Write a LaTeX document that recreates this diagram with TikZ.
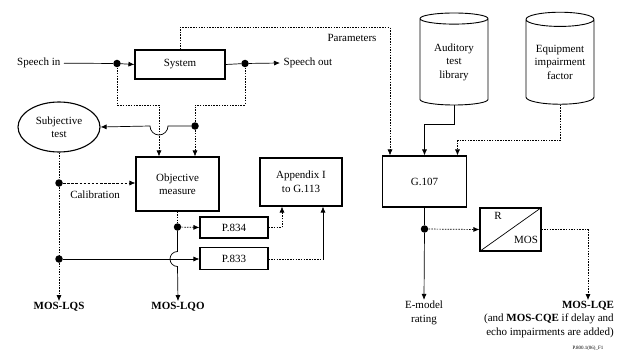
\documentclass[tikz,border=0pt]{standalone}
\usepackage{fontspec}
\setmainfont{Liberation Serif}
\usetikzlibrary{arrows.meta,positioning,calc,shapes.geometric}

\begin{document}
\begin{tikzpicture}[x=1pt,y=-1pt,
		font=\fontsize{11}{13.5}\selectfont,
		line width=0.7pt,
		box/.style={draw,line width=1.1pt,align=center,inner sep=0pt},
		store/.style={draw,line width=0.9pt,cylinder,shape border rotate=90,aspect=0.28,align=center,minimum width=68pt,minimum height=92pt,inner sep=0pt},
		dot/.style={circle,fill,inner sep=0pt,minimum size=7.5pt},
		arr/.style={-{Latex[length=6pt,width=5pt]}},
		dots/.style={dash pattern=on 1.5pt off 1.2pt},
		dsh/.style={dash pattern=on 2.5pt off 1.6pt},
		outp/.style={font=\fontsize{11}{13.5}\selectfont\bfseries,inner sep=1pt}
	]
	\useasboundingbox (0,0) rectangle (619,353);
	% blocks
	\node[box,minimum width=90pt,minimum height=29pt] (system) at (180,64.5) {System};
	\node[draw,line width=1.1pt,ellipse,minimum width=82pt,minimum height=50pt,align=center,inner sep=0pt] (subj) at (59,127) {Subjective\\test};
	\node[box,minimum width=83pt,minimum height=54pt] (obj) at (177.5,184) {Objective\\measure};
	\node[box,minimum width=82pt,minimum height=48pt] (app) at (301,182) {Appendix I\\to G.113};
	\node[box,minimum width=68pt,minimum height=21pt] (p834) at (234,227.5) {P.834};
	\node[box,minimum width=68pt,minimum height=22pt] (p833) at (234,258.5) {P.833};
	\node[store] (aud) at (454,62) {Auditory\\test\\library};
	\node[store] (equ) at (560,62) {Equipment\\impairment\\factor};
	\node[box,minimum width=84pt,minimum height=51pt] (g107) at (424.5,181.5) {G.107};
	\node[box,minimum width=61pt,minimum height=43pt] (rmos) at (510.5,229.5) {};
	\node at (498,216) {R};
	\node at (526,240) {MOS};
	% texts
	\node[anchor=east] (speechin) at (64,63) {Speech in};
	\node[anchor=west] (speechout) at (280,63) {Speech out};
	\node (params) at (352,38) {Parameters};
	\node (calib) at (95,195) {Calibration};
	\node[outp] (moslqs) at (59,307) {MOS-LQS};
	\node[outp] (moslqo) at (178,307) {MOS-LQO};
	\node[align=center,inner sep=1pt] (emodel) at (424,313) {E-model\\rating};
	\node[outp] (moslqe) at (588,306) {MOS-LQE};
	\node[anchor=north east,align=right,inner sep=0pt] (lqenote) at (614,313.5) {(and \textbf{MOS-CQE} if delay and\\echo impairments are added)};
	\node[font=\fontsize{5}{6}\selectfont] (figno) at (588,348) {P.800.1(06)\_F1};
	% junctions
	\node[dot] (d1) at (117,63.5) {};
	\node[dot] (d2) at (245,63.5) {};
	\node[dot] (d3) at (195,126) {};
	\node[dot] (d4) at (59,183) {};
	\node[dot] (d5) at (59,259) {};
	\node[dot] (d6) at (177.5,227) {};
	\node[dot] (d7) at (424.5,229) {};
	\coordinate (c1) at (323,259);
	% connectors
	\draw (speechin) -- (d1);
	\draw[arr] (d1) -- (system.west);
	\draw (system.east) -- (d2);
	\draw[arr] (d2) -- (speechout.west);
	\draw[dots,arr] (system.north) -- ++(0,-22) -| ([xshift=-34.5pt]g107.north);
	\draw[dots,arr] (d1) -- ++(0,41.5) -| ([xshift=-18.5pt]obj.north);
	\draw[dots] (d2) -- ++(0,41.5) -| (d3);
	\draw[dots,arr] (d3) -- ([xshift=17.5pt]obj.north);
	\draw[arr] (d3) -- (168,126) arc[start angle=0,end angle=-180,radius=9pt] -- (subj.east);
	\draw[dots] (subj.south) -- (d4);
	\draw[dots] (d4) -- (d5);
	\draw[dots,arr] (d5) -- (moslqs.north);
	\draw[dsh,arr] (d4) -- (obj.west |- d4);
	\draw[dots] (obj.south) -- (d6);
	\draw[dots,arr] (d6) -- (p834.west);
	\draw[arr] (d6) -- (177.5,251.5) arc[start angle=90,end angle=270,radius=7.5pt] -- (moslqo.north);
	\draw[arr] (d5) -- (p833.west |- d5);
	\draw[dots,arr] (p834.east) -| ([xshift=-19pt]app.south);
	\draw[dots] (p833.east |- c1) -- (c1);
	\draw[arr] (c1) -- ([xshift=22pt]app.south);
	\draw[arr] (aud.south) -- ++(0,19) -| (g107.north);
	\draw[dots,arr] (equ.south) -- ++(0,36) -| ([xshift=33pt]g107.north);
	\draw (g107.south) -- (d7);
	\draw[arr] (d7) -- (emodel.north);
	\draw[dots,arr] (d7) -- (rmos.west);
	\draw (rmos.south west) -- (rmos.north east);
	\draw[dots,arr] (rmos.east) -| (moslqe.north);
\end{tikzpicture}
\end{document}
